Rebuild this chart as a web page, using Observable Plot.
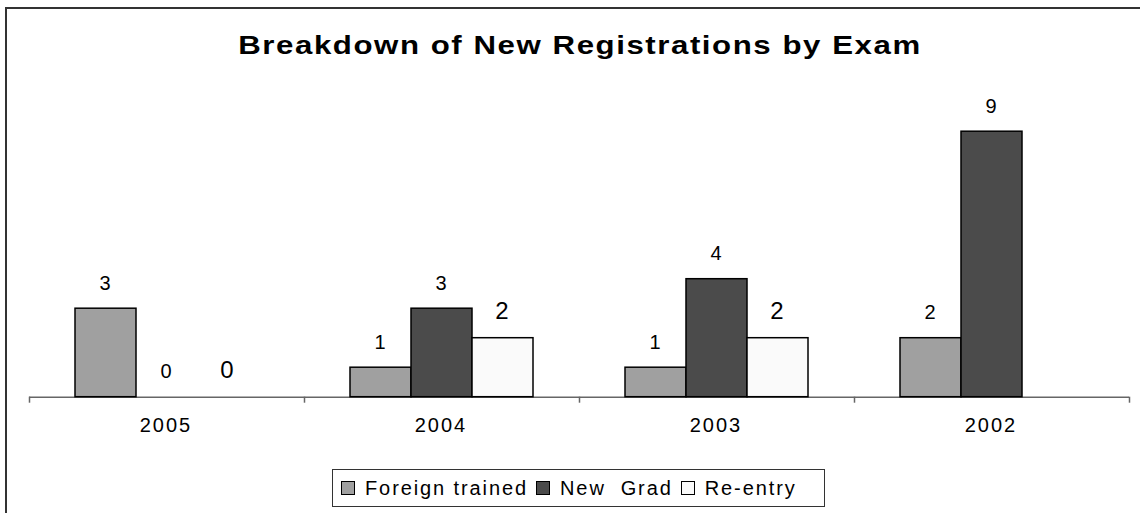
<!DOCTYPE html>
<html>
<head>
<meta charset="utf-8">
<script src="https://cdn.jsdelivr.net/npm/d3@7"></script>
<script src="https://cdn.jsdelivr.net/npm/@observablehq/plot@0.6"></script>
<style>
  html, body { margin: 0; padding: 0; background: #fff; }
  body { width: 1140px; height: 513px; overflow: hidden; position: relative; font-family: "Liberation Sans", Arial, sans-serif; }
  #frame { position: absolute; left: 5px; top: 7px; width: 1200px; height: 600px; border-left: 2px solid #333; border-top: 2px solid #333; }
  #title { position: absolute; left: 0; width: 1160px; top: 30px; text-align: center; font-weight: bold; font-size: 26px; line-height: 30px; letter-spacing: 1.3px; color: #000; transform: scaleX(1.2); transform-origin: 580px 50%; }
  #chart { position: absolute; left: 0; top: 0; }
  #chart svg text { letter-spacing: 2px; }
  #legend { position: absolute; left: 332px; top: 469px; width: 491px; height: 36px; border: 1.5px solid #333; display: flex; align-items: center; box-sizing: content-box; font-size: 20px; letter-spacing: 1.9px; color: #000; }
  .item { display: flex; align-items: center; white-space: pre; }
  .sw { width: 12px; height: 12px; border: 1.5px solid #000; margin-left: 8px; margin-right: 10px; }
</style>
</head>
<body>
<div id="frame"></div>
<div id="title">Breakdown of New Registrations by Exam</div>
<div id="chart"></div>
<div id="legend"></div>
<script>
const years = ["2005", "2004", "2003", "2002"];
const series = ["Foreign trained", "New Grad", "Re-entry"];
const legendLabels = ["Foreign trained", "New  Grad", "Re-entry"];
const foreignTrained = [3, 1, 1, 2];
const newGrad = [0, 3, 4, 9];
const reEntry = [0, 2, 2, null];
const colors = ["#a0a0a0", "#4b4b4b", "#fafafa"];

const values = [foreignTrained, newGrad, reEntry];
const data = years.flatMap((year, i) =>
  series.map((s, j) => ({year, series: s, value: values[j][i]}))
).filter(d => d.value != null);

const W = 1140, H = 450;
const mL = 29, mR = 11, mT = 101.7, mB = 53.3;
const half = (W - mL - mR) / years.length / 2;

const plot = Plot.plot({
  width: W,
  height: H,
  marginLeft: mL,
  marginRight: mR,
  marginTop: mT,
  marginBottom: mB,
  style: {fontFamily: "'Liberation Sans', Arial, sans-serif", background: "transparent", overflow: "visible"},
  fx: {domain: years, padding: 0, label: null},
  x: {domain: series, paddingInner: 0, paddingOuter: 0.745, axis: null},
  y: {domain: [0, 10], axis: null},
  color: {domain: series, range: colors},
  marks: [
    Plot.ruleY([0], {stroke: "#666", strokeWidth: 1.5}),
    Plot.barY(data, {fx: "year", x: "series", y: "value", fill: "series", stroke: "#000", strokeWidth: 1.5}),
    Plot.text(data.filter(d => d.series !== "Re-entry"), {fx: "year", x: "series", y: "value", text: d => String(d.value), dy: -25.5, fontSize: 20, lineAnchor: "middle", fill: "#000"}),
    Plot.text(data.filter(d => d.series === "Re-entry"), {fx: "year", x: "series", y: "value", text: d => String(d.value), dy: -27, fontSize: 24, lineAnchor: "middle", fill: "#000"}),
    Plot.axisFx({anchor: "bottom", tickSize: 0, tickPadding: 21, fontSize: 20, label: null, dx: -1, fill: "#000"}),
    Plot.axisFx({anchor: "bottom", tickSize: 6, tickFormat: () => "", label: null, dx: -half, stroke: "#666", strokeWidth: 1.5}),
    Plot.axisFx({anchor: "bottom", ticks: [years[years.length - 1]], tickSize: 6, tickFormat: () => "", label: null, dx: half, stroke: "#666", strokeWidth: 1.5})
  ]
});
document.getElementById("chart").appendChild(plot);

const legend = document.getElementById("legend");
series.forEach((s, i) => {
  const item = document.createElement("div");
  item.className = "item";
  const sw = document.createElement("span");
  sw.className = "sw";
  sw.style.background = colors[i];
  const lab = document.createElement("span");
  lab.textContent = legendLabels[i];
  item.appendChild(sw);
  item.appendChild(lab);
  legend.appendChild(item);
});
</script>
</body>
</html>
